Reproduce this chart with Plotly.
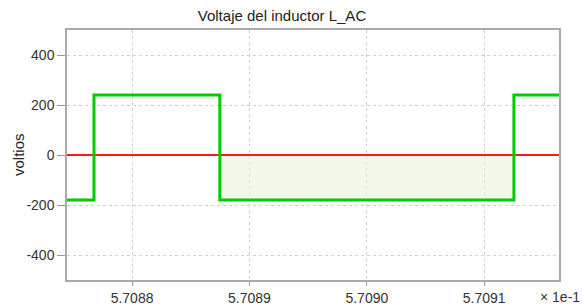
import plotly.graph_objects as go

# Time axis in displayed units (x 1e-1 s)
t_edges = [5.7087446, 5.7087676, 5.7088748, 5.7091253, 5.7091637]
v_inductor = [-180, 240, -180, 240, 240]
fill_t = [5.7088748, 5.7091253]
fill_v = [-180, -180]
ref_t = [5.7087446, 5.7091637]
ref_v = [0, 0]
x_ticks = [5.7088, 5.7089, 5.7090, 5.7091]
x_ticktext = ["5.7088", "5.7089", "5.7090", "5.7091"]
y_ticks = [-400, -200, 0, 200, 400]
y_ticktext = ["-400", "-200", "0", "200", "400"]

FONT = "Liberation Sans, Arial, sans-serif"
W, H = 582, 306
L, R, T, B = 67, 23, 30, 26
PW = W - L - R
PH = H - T - B

fig = go.Figure()
fig.add_trace(go.Scatter(x=fill_t, y=fill_v, mode="lines", line=dict(width=0),
                         fill="tozeroy", fillcolor="rgba(228,242,214,0.5)",
                         hoverinfo="skip", showlegend=False))
fig.add_trace(go.Scatter(x=ref_t, y=ref_v, mode="lines",
                         line=dict(color="#ff1a1a", width=2.2), showlegend=False))
fig.add_trace(go.Scatter(x=t_edges, y=v_inductor, mode="lines", line_shape="hv",
                         line=dict(color="#00cc00", width=3), showlegend=False))

axis_common = dict(showgrid=True, gridcolor="#d0d0d0", griddash="dot", gridwidth=1,
                   showline=True, linecolor="#aaaaaa", linewidth=1.5, mirror=True,
                   ticks="outside", tickcolor="#999999",
                   zeroline=False, automargin=False,
                   tickfont=dict(size=14, color="#333333"))

fig.update_layout(
    width=W, height=H,
    margin=dict(l=L, r=R, t=T, b=B),
    paper_bgcolor="white", plot_bgcolor="white",
    font=dict(family=FONT, size=14, color="#333333"),
    title=dict(text="Voltaje del inductor L_AC", x=282 / W, xanchor="center",
               y=1 - 16 / H, yanchor="middle", yref="container",
               font=dict(size=15, color="#222222")),
    xaxis=dict(range=[ref_t[0], ref_t[1]], tickvals=x_ticks, ticktext=x_ticktext,
               ticklen=4, **axis_common),
    yaxis=dict(range=[-500, 500], tickvals=y_ticks, ticktext=y_ticktext,
               ticklen=8, **axis_common),
    annotations=[
        dict(text="× 1e-1", xref="paper", yref="paper", x=(W - L) / PW, y=-17 / PH,
             xanchor="right", yanchor="middle", showarrow=False,
             font=dict(size=14, color="#333333")),
        dict(text="voltios", xref="paper", yref="paper", x=(18 - L) / PW, y=0.5,
             xanchor="center", yanchor="middle", textangle=-90, showarrow=False,
             font=dict(size=15, color="#222222")),
    ],
)

fig.write_html("out.html", config={"displayModeBar": False},
               post_script="document.body.style.margin='0px';document.body.style.overflow='hidden';")
